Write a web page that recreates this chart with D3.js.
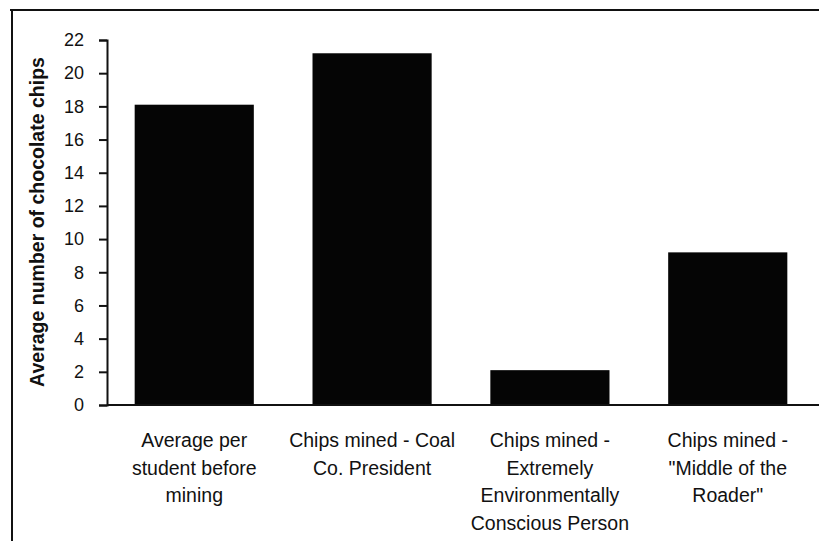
<!DOCTYPE html>
<html>
<head>
<meta charset="utf-8">
<script src="https://cdn.jsdelivr.net/npm/d3@7"></script>
<style>
  html, body { margin: 0; padding: 0; background: #fff; }
  svg { display: block; font-family: "Liberation Sans", Arial, Helvetica, sans-serif; }
</style>
</head>
<body>
<svg id="chart" width="819" height="541"></svg>
<script>
// Chip mining results
const categories = [
  "Average per student before mining",
  "Chips mined - Coal Co. President",
  "Chips mined - Extremely Environmentally Conscious Person",
  "Chips mined - \"Middle of the Roader\""
];
// wrapped label lines, as printed under each bar
const labelLines = [
  ["Average per", "student before", "mining"],
  ["Chips mined - Coal", "Co. President"],
  ["Chips mined -", "Extremely", "Environmentally", "Conscious Person"],
  ["Chips mined -", "\"Middle of the", "Roader\""]
];
const chips = [18.1, 21.2, 2.1, 9.2];
const yTicks = [0, 2, 4, 6, 8, 10, 12, 14, 16, 18, 20, 22];
const yLabel = "Average number of chocolate chips";

const svg = d3.select("#chart");
const W = 819, H = 541;
const axisX = 107, baseY = 405, topY = 40;

// Frame (top + left edges of the scanned box)
svg.append("line").attr("x1", 10).attr("x2", W).attr("y1", 10).attr("y2", 10)
  .attr("stroke", "#111").attr("stroke-width", 2);
svg.append("line").attr("x1", 12).attr("x2", 12).attr("y1", 10).attr("y2", H)
  .attr("stroke", "#111").attr("stroke-width", 2);

// Scales
const x = d3.scaleBand()
  .domain(categories)
  .range([axisX + 1, 814])
  .paddingInner(0.33)
  .paddingOuter(0.15);

const y = d3.scaleLinear()
  .domain([0, 22])
  .range([baseY, topY]);

// Bars
svg.append("g").selectAll("rect")
  .data(chips)
  .join("rect")
  .attr("x", (d, i) => x(categories[i]))
  .attr("y", d => y(d))
  .attr("width", x.bandwidth())
  .attr("height", d => y(0) - y(d))
  .attr("fill", "#050505");

// Y axis
const yAxis = svg.append("g")
  .attr("transform", `translate(${axisX},0)`)
  .call(d3.axisLeft(y).tickValues(yTicks).tickSize(8).tickPadding(15).tickSizeOuter(8));
yAxis.select(".domain").attr("stroke", "#111").attr("stroke-width", 2);
yAxis.selectAll(".tick line").attr("stroke", "#111").attr("stroke-width", 2);
yAxis.selectAll(".tick text")
  .attr("fill", "#111")
  .style("font-size", "18px")
  .style("font-family", "'Liberation Sans', Arial, sans-serif");

// Baseline
svg.append("line")
  .attr("x1", axisX).attr("x2", W)
  .attr("y1", y(0)).attr("y2", y(0))
  .attr("stroke", "#111").attr("stroke-width", 2);

// Category labels
const lab = svg.append("g").selectAll("text")
  .data(labelLines)
  .join("text")
  .attr("text-anchor", "middle")
  .attr("fill", "#111")
  .style("font-size", "19.5px")
  .attr("transform", (d, i) => `translate(${x(categories[i]) + x.bandwidth() / 2},447)`);
lab.selectAll("tspan")
  .data(d => d)
  .join("tspan")
  .attr("x", 0)
  .attr("y", (d, j) => j * 27.7)
  .text(d => d);

// Y axis title
svg.append("text")
  .attr("transform", `translate(44,222) rotate(-90)`)
  .attr("text-anchor", "middle")
  .attr("fill", "#111")
  .style("font-size", "19.5px")
  .style("font-weight", "bold")
  .text(yLabel);
</script>
</body>
</html>
